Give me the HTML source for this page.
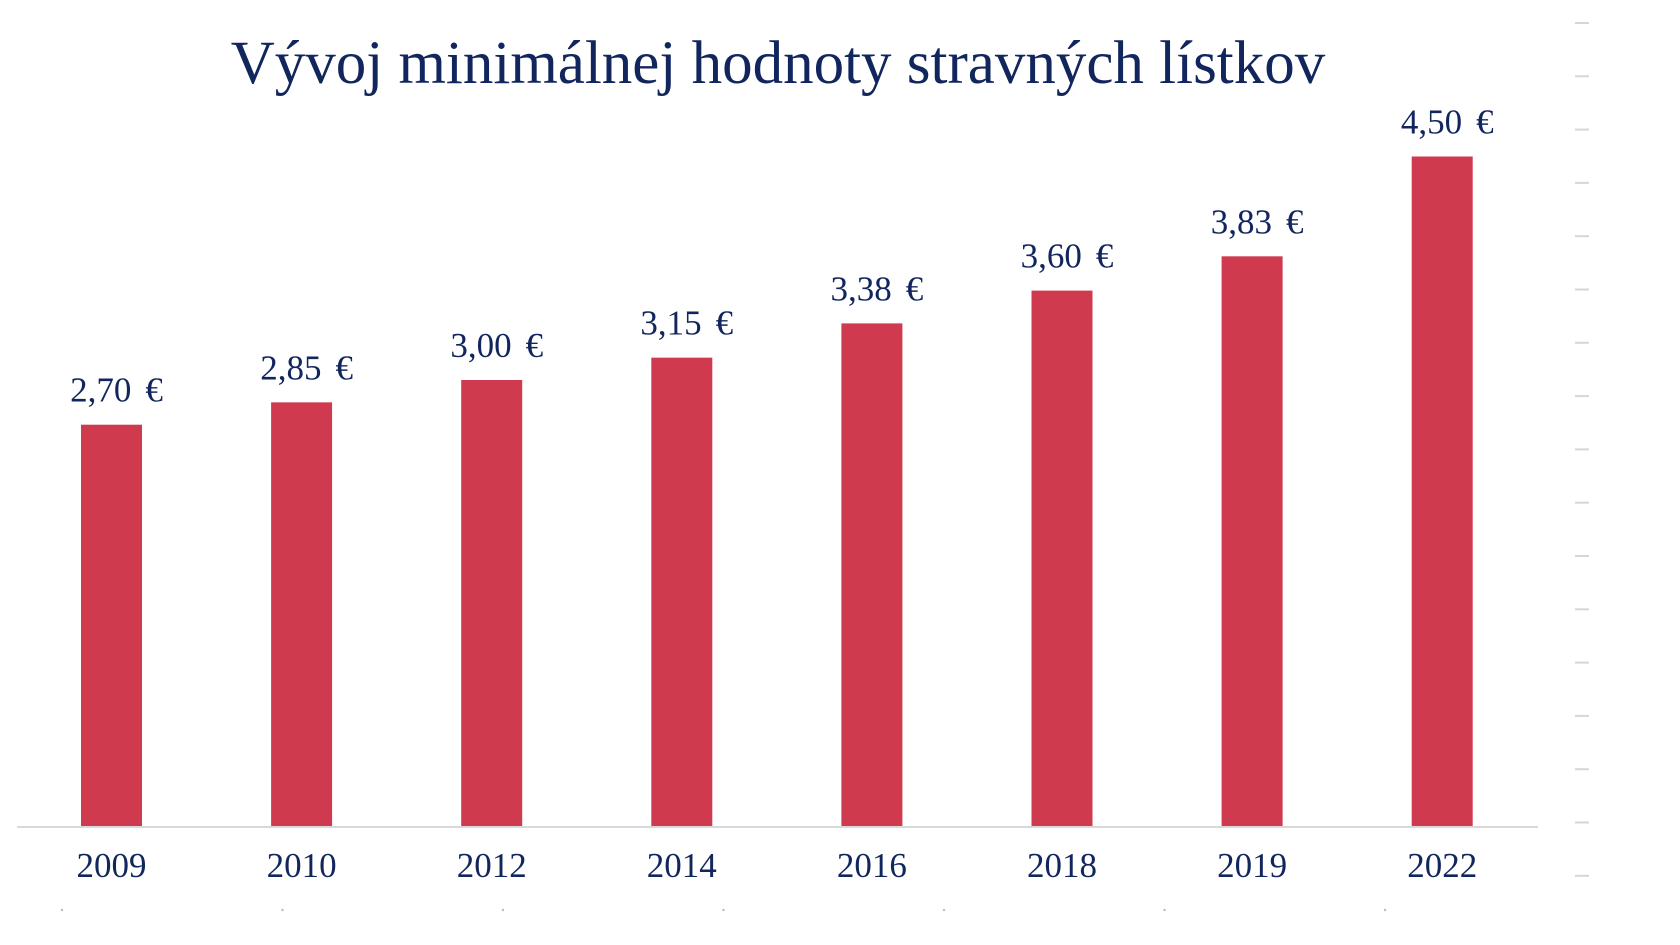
<!DOCTYPE html>
<html><head><meta charset="utf-8"><style>
body{margin:0;background:#fff;}
svg{display:block;}
text{font-family:"Liberation Serif",serif;fill:#12265e;}
</style></head><body>
<svg width="1680" height="945" viewBox="0 0 1680 945">
<text x="778" y="83" text-anchor="middle" font-size="61">Vývoj minimálnej hodnoty stravných lístkov</text>
<g id="ticks"></g>
<g id="dots"></g>
<g id="bars"></g>
<line x1="17" y1="827" x2="1538" y2="827" stroke="#d9d9d9" stroke-width="2"/>
<g id="labels"></g>
</svg>
<script>
const categories = ["2009","2010","2012","2014","2016","2018","2019","2022"];
const values = [2.70, 2.85, 3.00, 3.15, 3.38, 3.60, 3.83, 4.50];
const valueLabels = ["2,70","2,85","3,00","3,15","3,38","3,60","3,83","4,50"];
const NS="http://www.w3.org/2000/svg";
const baseY=827, pxPerUnit=149, x0=81, step=190.1, barW=61;
function xPos(i){return x0+i*step;}
function yPos(v){return baseY-v*pxPerUnit;}
const bars=document.getElementById('bars'), labels=document.getElementById('labels');
categories.forEach((c,i)=>{
  const x=xPos(i), y=yPos(values[i]);
  const r=document.createElementNS(NS,'rect');
  r.setAttribute('x',x);r.setAttribute('y',y);r.setAttribute('width',barW);r.setAttribute('height',baseY-y);
  r.setAttribute('fill','#d03a4f');
  
  
  bars.appendChild(r);
  const t=document.createElementNS(NS,'text');
  t.setAttribute('x',x+barW/2+5);t.setAttribute('y',y-23);t.setAttribute('text-anchor','middle');t.setAttribute('font-size','35');
  
  
  t.appendChild(document.createTextNode(valueLabels[i]));
  const e=document.createElementNS(NS,'tspan');
  e.setAttribute('dx','14');
  e.textContent='€';
  t.appendChild(e);
  bars.appendChild(t);
  const l=document.createElementNS(NS,'text');
  l.setAttribute('x',x+barW/2);l.setAttribute('y',877);l.setAttribute('text-anchor','middle');l.setAttribute('font-size','35');
  l.textContent=c;
  
  
  labels.appendChild(l);
});
const ticks=document.getElementById('ticks');
for(let k=0;k<17;k++){
  const ln=document.createElementNS(NS,'line');
  const y=23+k*53.3;
  ln.setAttribute('x1',1575);ln.setAttribute('x2',1589);ln.setAttribute('y1',y);ln.setAttribute('y2',y);
  ln.setAttribute('stroke','#d6d6d6');ln.setAttribute('stroke-width','2');
  
  
  ticks.appendChild(ln);
}
const dots=document.getElementById('dots');
for(let k=0;k<7;k++){
  const d=document.createElementNS(NS,'circle');
  d.setAttribute('cx',62+k*220.5);d.setAttribute('cy',910);d.setAttribute('r',1.2);d.setAttribute('fill','#bbb');
  
  
  dots.appendChild(d);
}
</script>
</body></html>
